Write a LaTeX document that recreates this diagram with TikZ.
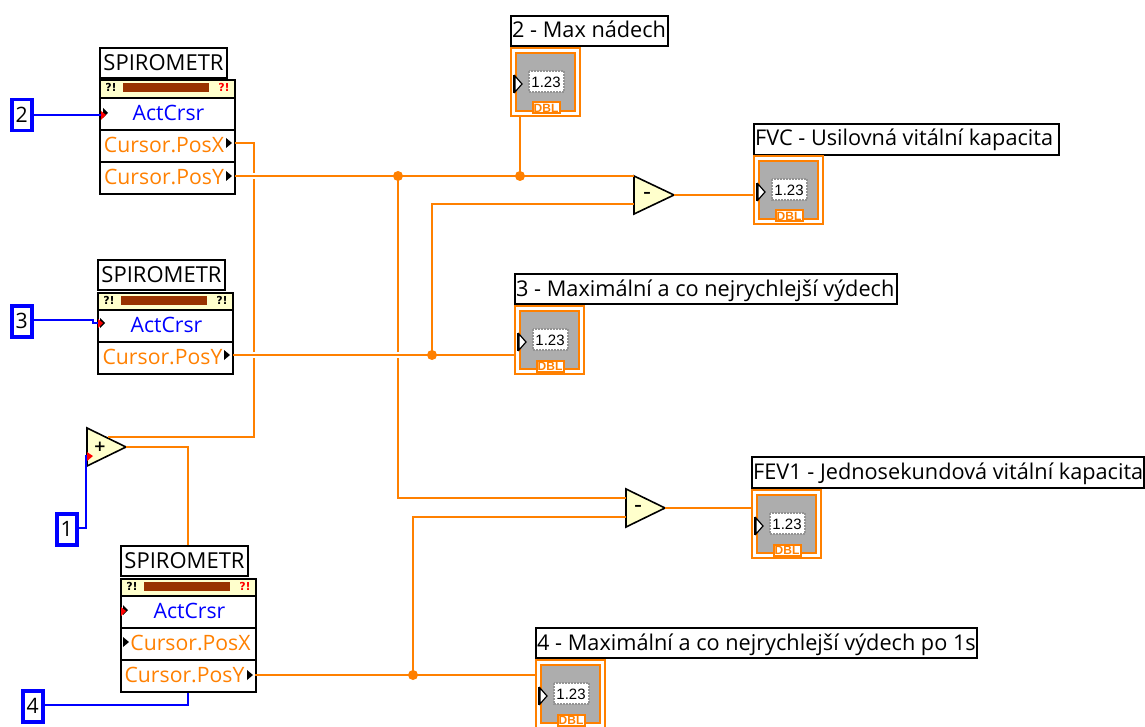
\documentclass[tikz,border=0pt]{standalone}
\usepackage{fontspec}
\setmainfont{Open Sans}
\newfontfamily\numfont{Liberation Sans}
\newfontfamily\iconfont{DejaVu Sans}
\definecolor{wireor}{HTML}{FF8000}
\definecolor{wirebl}{HTML}{0000FF}
\definecolor{primy}{HTML}{FFFFCC}
\definecolor{errbar}{HTML}{993300}
\definecolor{indgray}{HTML}{ADADAD}
\newcommand{\lvfont}{\fontsize{21.2}{23}\selectfont}
\tikzset{
  x=1pt,y=-1pt,
  wire/.style={draw=wireor,line width=2pt},
  bwire/.style={draw=wirebl,line width=2pt},
  gapmask/.style={draw=white,line width=5.5pt},
  junct/.style={circle,fill=wireor,inner sep=0pt,minimum size=10pt},
  lbl/.style={draw=black,line width=2pt,fill=white,anchor=north west,inner sep=0pt},
  lbltxt/.style={inner sep=0pt,anchor=base west,font=\fontsize{21.7}{23}\selectfont},
  rowbox/.style={draw=black,line width=2pt,fill=white,anchor=north west,inner sep=0pt,font=\lvfont},
  const/.style={draw=wirebl,line width=3.5pt,fill=white,inner sep=0pt,anchor=north west,
     minimum width=20pt,minimum height=31pt,font=\lvfont},
  prim/.style={fill=primy,draw=black,line width=1.6pt,line join=miter},
  signtxt/.style={inner sep=0pt,font=\iconfont\bfseries\fontsize{15}{15}\selectfont},
  qmark/.style={inner sep=0pt,font=\iconfont\bfseries\fontsize{11}{11}\selectfont},
  term/.style={fill=black},
  redterm/.style={fill=red}
}
% label: name, x1, y1, x2, y2, text
\newcommand{\lvlabel}[6]{\node[lbl,minimum width={#4-#2},minimum height={#5-#3}] (#1) at (#2,#3) {};
  \node[lbltxt] (#1txt) at (#2+2,#3+23) {#6};}
% indicator: name, x, y
\newcommand{\lvind}[3]{%
  \node[draw=wireor,line width=2pt,fill=white,anchor=north west,inner sep=0pt,minimum width=69pt,minimum height=68pt] (#1) at (#2,#3) {};
  \begin{scope}[shift={(#2,#3)}]
    \fill[indgray,draw=wireor,line width=2pt] (6,6) rectangle (65,64);
    \fill[white,draw=gray!85,densely dotted,line width=2pt] (19,24) rectangle (54,45);
    \node[inner sep=0pt,font=\numfont\fontsize{15}{15}\selectfont] (#1val) at (36,35) {1.23};
    \draw[fill=white,draw=black,line width=1.2pt] (5,29) -- (12,37) -- (5,45) -- cycle;
    \draw[black,line width=2pt] (4,28) -- (4,46);
    \node[draw=wireor,line width=2pt,fill=white,text=wireor,inner sep=0pt,minimum width=27pt,minimum height=11pt,
      font=\numfont\bfseries\fontsize{12}{10}\selectfont] (#1dbl) at (36,61) {DBL};
  \end{scope}}
% spirometer shell: name, x, y (title top-left), body dy, rightcolor
\newcommand{\lvhead}[5]{%
  \begin{scope}[shift={(#2,#3)}]
    \node[rowbox,minimum width=127pt,minimum height=30pt,font=\fontsize{22}{23}\selectfont] (#1title) at (0,0) {SPIROMETR};
    \node[rowbox,fill=primy,minimum width=135pt,minimum height=18pt] (#1err) at (0,#4) {};
    \fill[errbar] (24,#4+4) rectangle (110,#4+13);
    \node[qmark] (#1ql) at (12,#4+8.5) {?!};
    \node[qmark,text=#5] (#1qr) at (125,#4+8.5) {?!};
  \end{scope}}
% row: name, x, y, color, text, xanchor shift
\newcommand{\lvrow}[6]{%
  \node[rowbox,minimum width=135pt,minimum height=32pt,text=#4] (#1) at (#2,#3) {\hspace{#6pt}\raisebox{1.5pt}{#5}\hspace{-#6pt}};}
\newcommand{\termr}[2]{\fill[term] (#1,#2-5) -- (#1+6,#2) -- (#1,#2+5) -- cycle;}
\begin{document}
\begin{tikzpicture}
\useasboundingbox (0,0) rectangle (1145,727);
% terminal labels
\lvlabel{lmax}{510}{15}{667}{45}{2 - Max nádech}
\lvlabel{lfvc}{753}{123}{1058}{154}{FVC - Usilovná vitální kapacita}
\lvlabel{lmv}{514}{273}{896}{303}{3 - Maximální a co nejrychlejší výdech}
\lvlabel{lfev}{751}{456}{1143}{487}{FEV1 - Jednosekundová vitální kapacita}
\lvlabel{lmv1}{535}{627}{976}{657}{4 - Maximální a co nejrychlejší výdech po 1s}
% indicators
\lvind{imax}{510}{47}
\lvind{ifvc}{753}{155}
\lvind{imv}{514}{305}
\lvind{ifev}{751}{489}
\lvind{imv1}{535}{659}
% spirometer 1
\lvhead{sa}{99}{47}{32}{red}
\lvrow{saact}{99}{97}{wirebl}{ActCrsr}{2}
\lvrow{sax}{99}{129}{wireor}{Cursor.PosX}{-7}
\lvrow{say}{99}{161}{wireor}{Cursor.PosY}{-7}
\termr{226}{143}\termr{226}{176}
% spirometer 2
\lvhead{sb}{97}{259}{33}{black}
\lvrow{sbact}{97}{309}{wirebl}{ActCrsr}{2}
\lvrow{sby}{97}{341}{wireor}{Cursor.PosY}{-6}
\termr{224}{355}
% spirometer 3
\lvhead{sc}{120}{545}{33}{red}
\lvrow{scact}{120}{595}{wirebl}{ActCrsr}{2}
\lvrow{scx}{120}{627}{wireor}{Cursor.PosX}{4}
\lvrow{scy}{120}{659}{wireor}{Cursor.PosY}{-8}
\termr{123}{642}\termr{247}{675}
% constants
\node[const] (c2) at (10,98) {2};
\node[const] (c3) at (10,304) {3};
\node[const] (c1) at (55,512) {1};
\node[const] (c4) at (21,689) {4};
% primitives
\coordinate (paa) at (87,437); \coordinate (pab) at (87,456); \coordinate (pao) at (126,447);
\coordinate (pbu) at (634,176); \coordinate (pbl) at (634,204); \coordinate (pbo) at (674,195);
\coordinate (pcu) at (626,498); \coordinate (pcl) at (626,517); \coordinate (pco) at (665,508);
\draw[prim] (87,428) -- (126,447) -- (87,466) -- cycle;
\draw[prim] (634,176) -- (674,195) -- (634,214) -- cycle;
\draw[prim] (626,489) -- (665,508) -- (626,527) -- cycle;
\node[signtxt] (pasign) at (100,447) {+};
\node[signtxt] (pbsign) at (647,195) {–};
\node[signtxt] (pcsign) at (638,508) {–};
% junctions and port coordinates
\coordinate (jtop) at (398,176);
\coordinate (jmax) at (520,176);
\coordinate (jmid) at (432,355);
\coordinate (jbot) at (413,675);
\coordinate (sax-o) at (235,143); \coordinate (say-o) at (235,176);
\coordinate (sby-o) at (233,355); \coordinate (scy-o) at (255,675);
\coordinate (bend) at (254,143);
\coordinate (xsum) at (254,437);
\coordinate (xout) at (188,447);
% sum wires
\draw[wire] (sax-o) -- (bend) -- (xsum) -- (108,437);
\draw[wire] (pao) -- (xout) -- (sctitle.north -| xout);
\draw[wire] (jtop) |- (pcu);
\draw[wire] (jmid) |- (pbl);
\draw[wire] (jbot) |- (pcl);
\draw[wire] (jmax) -- (imax.south -| jmax);
% crossing gaps, then the horizontal wires over them
\draw[gapmask] (250,176) -- (258,176);
\draw[gapmask] (250,355) -- (258,355);
\draw[gapmask] (394,355) -- (402,355);
\draw[wire] (say-o) -- (pbu);
\draw[wire] (sby-o) -- (imv.west |- sby-o);
\draw[wire] (scy-o) -- (imv1.west |- scy-o);
\draw[wire] (pbo) -- (ifvc.west |- pbo);
\draw[wire] (pco) -- (ifev.west |- pco);
\node[junct] (d1) at (jtop) {};
\node[junct] (d2) at (jmax) {};
\node[junct] (d3) at (jmid) {};
\node[junct] (d4) at (jbot) {};
% blue wires
\coordinate (sap) at (101,115);
\coordinate (sbp) at (100,323);
\coordinate (sbk) at (93,320);
\coordinate (pai) at (87,455);
\coordinate (c1k) at (86,528);
\coordinate (c4k) at (188,705);
\draw[bwire] (c2.east |- sap) -- (sap);
\draw[bwire] (c3.east |- sbk) -- (sbk) -- (93,323) -- (sbp);
\draw[bwire] (c1.east |- c1k) -- (c1k) -- (86,455);
\draw[bwire] (c4.east |- c4k) -- (c4k) -- (scy.south -| c4k);
% terminals on top of blue wires
\fill[term] (103,108) -- (108,113) -- (103,118) -- cycle;
\fill[red] (101,111) -- (106,115) -- (101,120) -- cycle;
\fill[term] (100,318) -- (105,323) -- (100,328) -- cycle;
\fill[red] (98,319) -- (103,323) -- (98,328) -- cycle;
\fill[term] (123,605) -- (128,610) -- (123,615) -- cycle;
\fill[red] (121,607) -- (126,611) -- (121,616) -- cycle;
\fill[red] (87,452) -- (93,456) -- (87,461) -- cycle;
\end{tikzpicture}
\end{document}
